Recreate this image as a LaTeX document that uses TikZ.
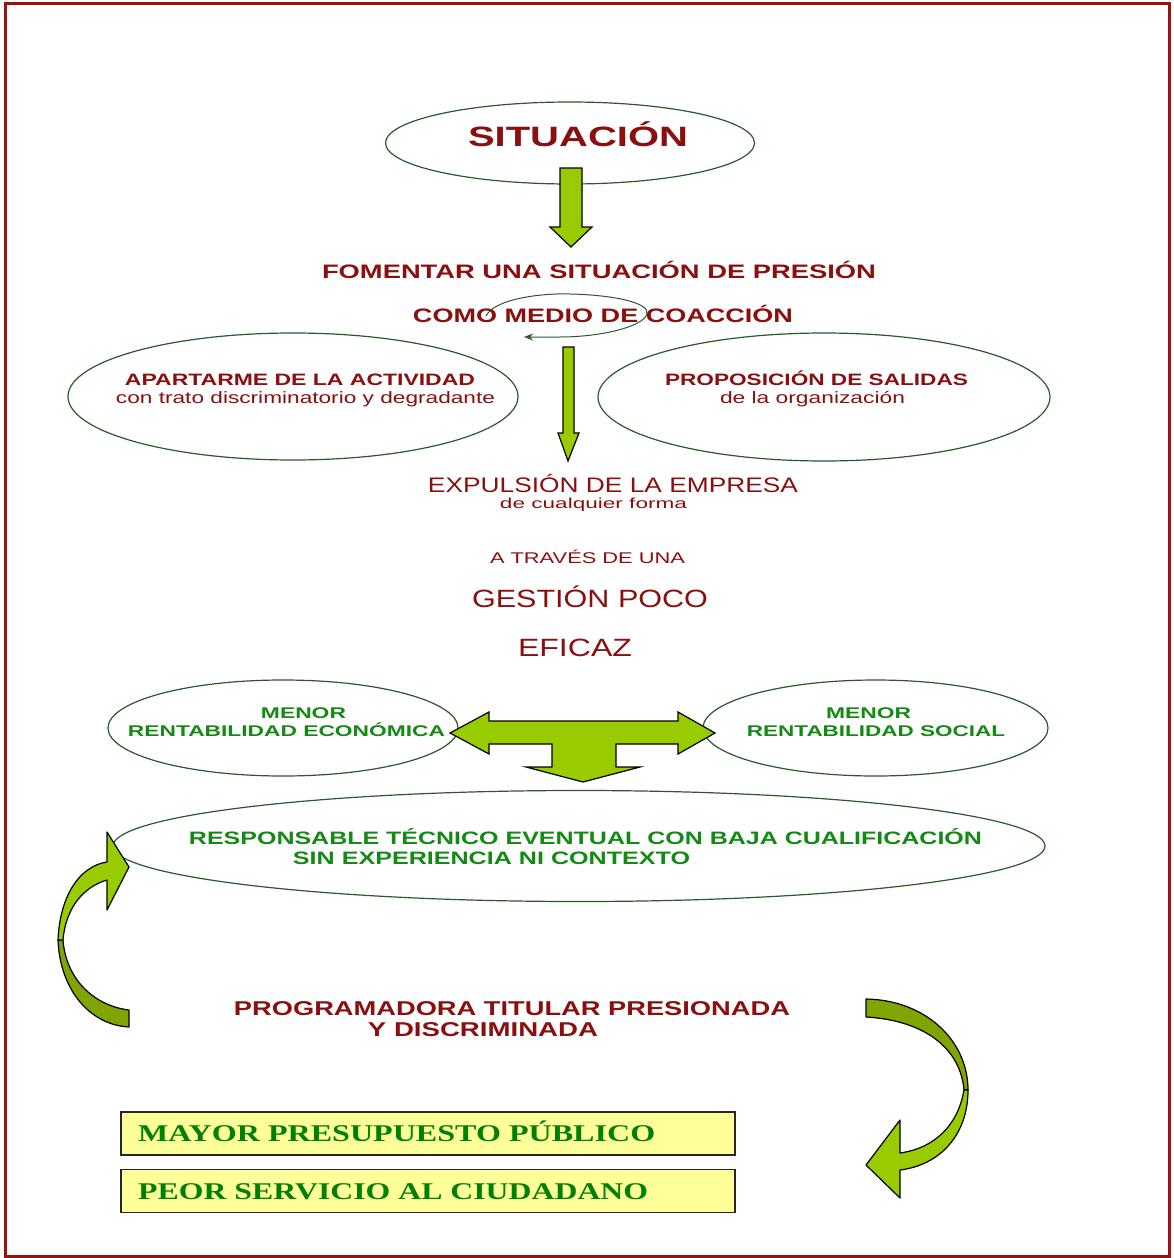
\documentclass[tikz,border=0pt]{standalone}
\usepackage{fontspec}
\usepackage{graphicx}
\setmainfont{Liberation Sans}
\newfontfamily\tnr{Liberation Serif}
\usetikzlibrary{arrows.meta,shapes.geometric}
\definecolor{dred}{HTML}{8A1010}
\definecolor{tgreen}{HTML}{138A13}
\definecolor{bgreen}{HTML}{008000}
\definecolor{egreen}{HTML}{2A5A2A}
\definecolor{lgreen}{HTML}{99CC00}
\definecolor{dkgreen}{HTML}{80A400}
\definecolor{byellow}{HTML}{FFFF99}
\definecolor{bord}{HTML}{9C1010}
\newcommand\fitw[2]{\resizebox{#1}{\height}{#2}}
\newcommand\fsz[1]{\fontsize{#1}{#1}\selectfont}
\begin{document}
\begin{tikzpicture}[x=1pt,y=-1pt,
  ell/.style={ellipse,draw=egreen,line width=1.2pt,inner sep=0pt},
  txt/.style={anchor=base,inner sep=0pt},
  txtl/.style={anchor=base west,inner sep=0pt},
  blockarrow/.style={draw=black,fill=lgreen,line width=1.2pt,line join=miter},
  ribbon/.style={draw=black,line width=1.2pt,line join=round},
  boxst/.style={draw=black!85,fill=byellow,line width=1.6pt,inner sep=0pt,minimum width=614pt,minimum height=43pt}]
\useasboundingbox (0,0) rectangle (1173,1258);
\fill[white] (0,0) rectangle (1173,1258);
\draw[bord,line width=3pt] (5.5,3) rectangle (1169.5,1256.5);

% ellipses
\node[ell,minimum width=369pt,minimum height=82pt] (esit) at (570,143) {};
\node[ell,minimum width=450pt,minimum height=127pt] (eapart) at (293,396.5) {};
\node[ell,minimum width=452pt,minimum height=128pt] (eprop) at (824,397) {};
\node[ell,minimum width=350pt,minimum height=96pt] (emenl) at (283,728) {};
\node[ell,minimum width=345pt,minimum height=96pt] (emenr) at (875.5,728) {};
\node[ell,minimum width=932pt,minimum height=111pt] (eresp) at (579,846) {};

% texts
\node[txt,text=dred] (tsit) at (578,146) {\fitw{220pt}{\fsz{28}\bfseries SITUACIÓN}};
\node[txt,text=dred] (tfom) at (599,278) {\fitw{554pt}{\fsz{19.5}\bfseries FOMENTAR UNA SITUACIÓN DE PRESIÓN}};
\node[txt,text=dred] (tcomo) at (603,322) {\fitw{380pt}{\fsz{19.5}\bfseries COMO MEDIO DE COACCIÓN}};
\node[txt,text=dred] (tap1) at (300,385.5) {\fitw{350pt}{\fsz{16.5}\bfseries APARTARME DE LA ACTIVIDAD}};
\node[txt,text=dred] (tap2) at (305.5,403) {\fitw{379pt}{\fsz{16.5}con trato discriminatorio y degradante}};
\node[txt,text=dred] (tpr1) at (816.5,385.5) {\fitw{303pt}{\fsz{16.5}\bfseries PROPOSICIÓN DE SALIDAS}};
\node[txt,text=dred] (tpr2) at (812.5,403) {\fitw{185pt}{\fsz{16.5}de la organización}};
\node[txt,text=dred] (texp) at (613,492) {\fitw{370pt}{\fsz{21}EXPULSIÓN DE LA EMPRESA}};
\node[txt,text=dred] (tcual) at (593.5,508) {\fitw{187pt}{\fsz{14.5}de cualquier forma}};
\node[txt,text=dred] (ttra) at (587.5,563) {\fitw{195pt}{\fsz{15.5}A TRAVÉS DE UNA}};
\node[txt,text=dred] (tges) at (590,607) {\fitw{236pt}{\fsz{25}GESTIÓN POCO}};
\node[txt,text=dred] (tefi) at (575,656) {\fitw{114pt}{\fsz{25}EFICAZ}};
\node[txt,text=tgreen] (tml1) at (303.5,718) {\fitw{85pt}{\fsz{15.5}\bfseries MENOR}};
\node[txt,text=tgreen] (tml2) at (286.5,736.5) {\fitw{317pt}{\fsz{15.5}\bfseries RENTABILIDAD ECONÓMICA}};
\node[txt,text=tgreen] (tmr1) at (868.5,718) {\fitw{85pt}{\fsz{15.5}\bfseries MENOR}};
\node[txt,text=tgreen] (tmr2) at (876,736.5) {\fitw{258pt}{\fsz{15.5}\bfseries RENTABILIDAD SOCIAL}};
\node[txt,text=tgreen] (tre1) at (585.5,844.5) {\fitw{793pt}{\fsz{18}\bfseries RESPONSABLE TÉCNICO EVENTUAL CON BAJA CUALIFICACIÓN}};
\node[txt,text=tgreen] (tre2) at (491.5,864) {\fitw{397pt}{\fsz{18}\bfseries SIN EXPERIENCIA NI CONTEXTO}};
\node[txt,text=dred] (tpg1) at (512,1015) {\fitw{556pt}{\fsz{20}\bfseries PROGRAMADORA TITULAR PRESIONADA}};
\node[txt,text=dred] (tpg2) at (483,1036) {\fitw{230pt}{\fsz{20}\bfseries Y DISCRIMINADA}};

% boxes
\node[boxst] (box1) at (428,1133.5) {};
\node[boxst] (box2) at (428,1191) {};
\node[txtl,text=bgreen] (tb1) at (138,1141) {\fitw{517pt}{\tnr\fsz{24}\bfseries MAYOR PRESUPUESTO PÚBLICO}};
\node[txtl,text=bgreen] (tb2) at (138,1199) {\fitw{510pt}{\tnr\fsz{24}\bfseries PEOR SERVICIO AL CIUDADANO}};

% block arrows
\draw[blockarrow] (560,168) -- (582,168) -- (582,227) -- (592,227) -- (571,247) -- (550,227) -- (560,227) -- cycle;
\draw[blockarrow] (563,347) -- (574,347) -- (574,433) -- (579,433) -- (568,461) -- (558,433) -- (563,433) -- cycle;
\draw[blockarrow] (450,733) -- (489,712) -- (489,721) -- (678,721) -- (678,712) -- (715,733) -- (678,754) -- (678,744)
  -- (616,744) -- (616,767) -- (640,767) -- (583,782) -- (526,767) -- (552,767) -- (552,744) -- (489,744) -- (489,754) -- cycle;

% loop arrow
\draw[egreen,line width=1pt,-{Stealth[length=9pt,width=7pt]}] (486,316) .. controls (495,298) and (545,293) .. (570,294)
  .. controls (615,295) and (650,303) .. (647,314) .. controls (643,327) and (600,337) .. (560,337) -- (524,337);

% left curved arrow
\draw[ribbon,fill=dkgreen] (58,940) .. controls (60,990) and (90,1025) .. (129,1027) -- (129,1010)
  .. controls (95,1006) and (66,980) .. (63,940) -- cycle;
\draw[ribbon,fill=lgreen] (58,940) .. controls (60,895) and (80,866) .. (107,862) -- (107,832) -- (129,867) -- (107,910)
  -- (107,880) .. controls (86,886) and (66,905) .. (63,940) -- cycle;

% right curved arrow
\draw[ribbon,fill=dkgreen] (866,999) .. controls (925,1000) and (968,1040) .. (968,1090) -- (964,1090)
  .. controls (960,1045) and (920,1020) .. (866,1017) -- cycle;
\draw[ribbon,fill=lgreen] (968,1090) .. controls (968,1135) and (940,1165) .. (900,1170) -- (900,1198) -- (866,1165)
  -- (900,1120) -- (900,1153) .. controls (935,1148) and (958,1125) .. (964,1090) -- cycle;
\end{tikzpicture}
\end{document}
